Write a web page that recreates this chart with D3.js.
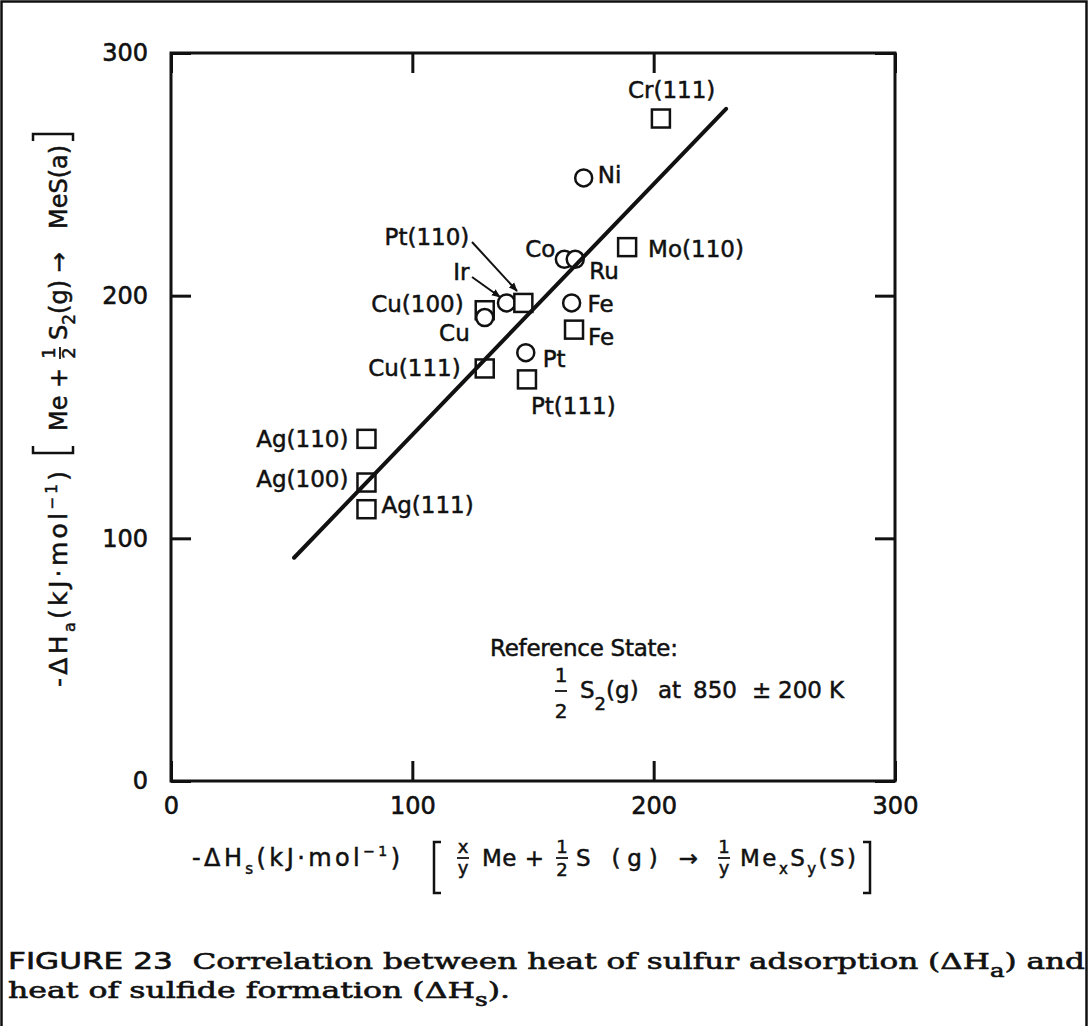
<!DOCTYPE html>
<html>
<head>
<meta charset="utf-8">
<script src="https://cdn.jsdelivr.net/npm/d3@7"></script>
<style>
  body { margin: 0; background: #fff; }
  svg { display: block; }
  text { fill: #111; font-family: "DejaVu Sans", sans-serif; white-space: pre; }
  .serif { font-family: "DejaVu Serif", serif; }
</style>
</head>
<body>
<div id="chart"></div>
<script>
// data
var names  = ["Cr(111)", "Ni", "Mo(110)", "Co", "Ru", "Ir", "Pt(110)", "Cu(100)", "Cu", "Fe", "Fe", "Pt", "Pt(111)", "Cu(111)", "Ag(110)", "Ag(100)", "Ag(111)"];
var shapes = ["sq", "ci", "sq", "ci", "ci", "ci", "sq", "sq", "ci", "ci", "sq", "ci", "sq", "sq", "sq", "sq", "sq"];
var heatS  = [203, 171, 189, 163, 167.5, 139, 146, 130, 130, 166, 167, 147, 147.5, 130, 81, 81, 81];
var heatA  = [273, 248.5, 220, 215, 215, 197, 197, 194, 191, 197, 186, 176.5, 165.5, 170, 141, 123, 112];
var fitX = [51, 230];
var fitY = [92, 277];
var xTicks = [0, 100, 200, 300];
var yTicks = [0, 100, 200, 300];

// label placement (pixels from the marker centre)
var labelPos = {
  "Cr(111)": [-33, -21, "start"], "Ni": [14, 5, "start"], "Mo(110)": [21, 10, "start"],
  "Co": [-9, -2, "end"], "Ru": [14, 20, "start"], "Ir": [-37, -23, "end"],
  "Pt(110)": [-54, -58, "end"], "Cu(100)": [-21, 2, "end"], "Cu": [-15, 23, "end"],
  "Fe0": [16, 9, "start"], "Fe1": [14, 15, "start"], "Pt": [17, 14, "start"],
  "Pt(111)": [4, 35, "start"], "Cu(111)": [-24, 8, "end"], "Ag(110)": [-18, 8, "end"],
  "Ag(100)": [-18, 4, "end"], "Ag(111)": [15, 4, "start"]
};

var W = 1088, H = 1026;
var mL = 171, mR = 895, mT = 53, mB = 781;

var svg = d3.select("#chart").append("svg").attr("width", W).attr("height", H);
svg.append("rect").attr("width", W).attr("height", H).attr("fill", "#fff");

// page border
svg.append("path").attr("d", "M1.5," + H + "V1.5H" + (W - 1.5) + "V" + H)
  .attr("fill", "none").attr("stroke", "#111").attr("stroke-width", 2.5);

var x = d3.scaleLinear().domain([0, 300]).range([mL, mR]);
var y = d3.scaleLinear().domain([0, 300]).range([mB, mT]);

// axes, ticks pointing inward
function styleAxis(g) {
  g.select(".domain").remove();
  g.selectAll(".tick line").attr("stroke", "#111").attr("stroke-width", 3);
  g.selectAll(".tick text").attr("fill", "#111").attr("font-size", 24)
    .attr("font-family", "'DejaVu Sans', sans-serif").attr("stroke", "#111").attr("stroke-width", 0.6);
}
svg.append("g").attr("transform", "translate(" + mL + ",0)")
  .call(d3.axisLeft(y).tickValues(yTicks).tickSizeInner(-20).tickSizeOuter(0).tickPadding(23)).call(styleAxis);
svg.append("g").attr("transform", "translate(0," + mB + ")")
  .call(d3.axisBottom(x).tickValues(xTicks).tickSizeInner(-20).tickSizeOuter(0).tickPadding(16)).call(styleAxis);
svg.append("g").attr("transform", "translate(0," + mT + ")")
  .call(d3.axisTop(x).tickValues(xTicks).tickSizeInner(-20).tickSizeOuter(0).tickFormat("")).call(styleAxis);
svg.append("g").attr("transform", "translate(" + mR + ",0)")
  .call(d3.axisRight(y).tickValues(yTicks).tickSizeInner(-20).tickSizeOuter(0).tickFormat("")).call(styleAxis);

svg.append("rect").attr("x", mL).attr("y", mT).attr("width", mR - mL).attr("height", mB - mT)
  .attr("fill", "none").attr("stroke", "#111").attr("stroke-width", 3);

// markers
var pts = names.map(function(n, i) { return {name: n, x: heatS[i], y: heatA[i], shape: shapes[i]}; });
var mk = svg.append("g").attr("fill", "#fff").attr("stroke", "#111").attr("stroke-width", 2.5);
pts.forEach(function(d) {
  if (d.shape === "sq") {
    mk.append("rect").attr("x", x(d.x) - 9).attr("y", y(d.y) - 9).attr("width", 18).attr("height", 18);
  } else {
    mk.append("circle").attr("cx", x(d.x)).attr("cy", y(d.y)).attr("r", 8.5);
  }
});

// fitted line
svg.append("line").attr("x1", x(fitX[0])).attr("y1", y(fitY[0])).attr("x2", x(fitX[1])).attr("y2", y(fitY[1]))
  .attr("stroke", "#111").attr("stroke-width", 4).attr("stroke-linecap", "round");

// point labels
var feCount = 0;
pts.forEach(function(d) {
  var key = d.name;
  if (key === "Fe") { key = "Fe" + feCount; feCount++; }
  var p = labelPos[key];
  svg.append("text").attr("x", x(d.x) + p[0]).attr("y", y(d.y) + p[1]).attr("text-anchor", p[2])
    .attr("font-size", 23).attr("stroke", "#111").attr("stroke-width", 0.5).text(d.name);
});

// leader arrows for Ir and Pt(110)
svg.append("defs").append("marker").attr("id", "arr").attr("viewBox", "0 0 10 10")
  .attr("refX", 9).attr("refY", 5).attr("markerWidth", 9).attr("markerHeight", 9).attr("orient", "auto")
  .attr("markerUnits", "userSpaceOnUse")
  .append("path").attr("d", "M0,1L10,5L0,9Z").attr("fill", "#111");
var leaders = [[472, 242, 517, 291], [472, 277, 500, 297]];
leaders.forEach(function(l) {
  svg.append("line").attr("x1", l[0]).attr("y1", l[1]).attr("x2", l[2]).attr("y2", l[3])
    .attr("stroke", "#111").attr("stroke-width", 2).attr("marker-end", "url(#arr)");
});

// helpers for the formula text
function rich(parent, px, py, parts, size, len) {
  var t = parent.append("text").attr("x", px).attr("y", py).attr("font-size", size)
    .attr("stroke", "#111").attr("stroke-width", 0.5);
  if (len) t.attr("textLength", len).attr("lengthAdjust", "spacing");
  var shift = 0;
  parts.forEach(function(p) {
    var s = p[1] || 0;
    var sp = t.append("tspan").attr("dy", s - shift).text(p[0]);
    if (p[2]) sp.attr("font-size", p[2]);
    shift = s;
  });
  return t;
}
function frac(parent, cx, numY, denY, barY, num, den, size) {
  parent.append("text").attr("x", cx).attr("y", numY).attr("text-anchor", "middle").attr("font-size", size)
    .attr("stroke", "#111").attr("stroke-width", 0.5).text(num);
  parent.append("text").attr("x", cx).attr("y", denY).attr("text-anchor", "middle").attr("font-size", size)
    .attr("stroke", "#111").attr("stroke-width", 0.5).text(den);
  parent.append("line").attr("x1", cx - 6).attr("x2", cx + 6).attr("y1", barY).attr("y2", barY)
    .attr("stroke", "#111").attr("stroke-width", 1.8);
}
function bracket(parent, bx, y1, y2, dir) {
  parent.append("path").attr("d", "M" + (bx + 7 * dir) + "," + y1 + "H" + bx + "V" + y2 + "H" + (bx + 7 * dir))
    .attr("fill", "none").attr("stroke", "#111").attr("stroke-width", 2.5);
}

// x-axis title
var xt = svg.append("g");
rich(xt, 192, 866, [["-ΔH"], ["s", 8, 15], ["(kJ·mol", 0], ["−1", -10, 14], [")", 0]], 24, 208);
bracket(xt, 434, 842, 893, 1);
frac(xt, 463, 853, 874, 858, "x", "y", 18);
rich(xt, 482, 866, [["Me +"]], 23, 62);
frac(xt, 562, 853, 876, 858, "1", "2", 18);
rich(xt, 576, 866, [["S (g) →"]], 23, 122);
frac(xt, 724, 853, 874, 858, "1", "y", 18);
rich(xt, 740, 866, [["Me"], ["x", 8, 15], ["S", 0], ["y", 8, 15], ["(S)", 0]], 23, 116);
bracket(xt, 870, 842, 893, -1);

// y-axis title (rotated)
var yt = svg.append("g").attr("transform", "translate(67,697) rotate(-90)");
rich(yt, 10, 0, [["-ΔH"], ["a", 8, 16], ["(kJ·mol", 0], ["−1", -10, 15], [")", 0]], 25, 216);
bracket(yt, 244, -34, 6, 1);
rich(yt, 266, 0, [["Me +"]], 24);
frac(yt, 344, -12, 8, -7, "1", "2", 18);
rich(yt, 357, 0, [["S"], ["2", 8, 17], ["(g) →", 0]], 24);
rich(yt, 468, 0, [["MeS(a)"]], 24);
bracket(yt, 563, -34, 6, -1);

// reference state note
var rs = svg.append("g");
rich(rs, 490, 656, [["Reference State:"]], 23, 188);
frac(rs, 561, 682, 718, 691, "1", "2", 20);
rich(rs, 580, 698, [["S"], ["2", 12, 18], ["(g)", 0]], 23);
rich(rs, 658, 698, [["at"]], 23);
rich(rs, 693, 698, [["850"]], 23);
rich(rs, 752, 698, [["±"]], 23);
rich(rs, 778, 698, [["200"]], 23);
rich(rs, 829, 698, [["K"]], 23);

// caption
var c1 = svg.append("text").attr("class", "serif").attr("x", 8).attr("y", 969).attr("font-size", 23)
  .attr("stroke", "#111").attr("stroke-width", 0.6)
  .attr("textLength", 1077).attr("lengthAdjust", "spacingAndGlyphs");
c1.append("tspan").style("font-family", "'DejaVu Sans', sans-serif").text("FIGURE 23");
c1.append("tspan").text("  Correlation between heat of sulfur adsorption (ΔH");
c1.append("tspan").attr("dy", 8).attr("font-size", 18).text("a");
c1.append("tspan").attr("dy", -8).text(") and");
var c2 = svg.append("text").attr("class", "serif").attr("x", 8).attr("y", 998).attr("font-size", 23)
  .attr("stroke", "#111").attr("stroke-width", 0.6)
  .attr("textLength", 502).attr("lengthAdjust", "spacingAndGlyphs");
c2.append("tspan").text("heat of sulfide formation (ΔH");
c2.append("tspan").attr("dy", 8).attr("font-size", 18).text("s");
c2.append("tspan").attr("dy", -8).text(").");
</script>
</body>
</html>
